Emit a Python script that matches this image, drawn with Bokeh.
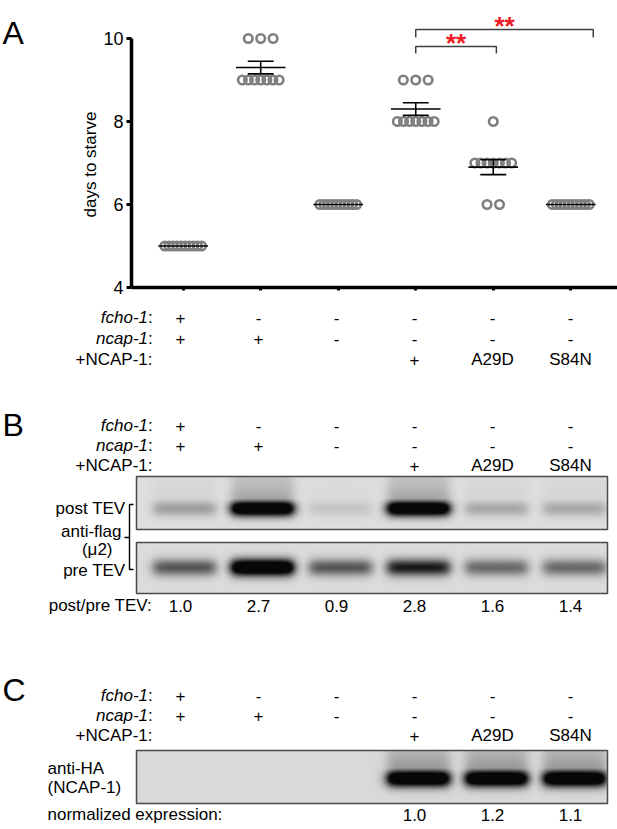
import numpy as np
from bokeh.plotting import figure
from bokeh.models import Range1d, LinearAxis, FixedTicker, LinearColorMapper
from bokeh.layouts import column, row
from bokeh.palettes import Greys256
from bokeh.embed import file_html
from bokeh.resources import INLINE
from bokeh.core.properties import value

FONT = "Liberation Sans"

# ---------------- data ----------------
lanes = [1, 2, 3, 4, 5, 6]
genotype_fcho1 = ["+", "-", "-", "-", "-", "-"]
genotype_ncap1 = ["+", "+", "-", "-", "-", "-"]
rescue_ncap1 = ["", "", "", "+", "A29D", "S84N"]

days_1 = [5, 5, 5, 5, 5, 5, 5, 5, 5, 5]
days_2 = [10, 10, 10, 9, 9, 9, 9, 9, 9, 9]
days_3 = [6, 6, 6, 6, 6, 6, 6, 6, 6, 6]
days_4 = [9, 9, 9, 8, 8, 8, 8, 8, 8, 8]
days_5 = [8, 7, 7, 7, 7, 7, 7, 7, 6, 6]
days_6 = [6, 6, 6, 6, 6, 6, 6, 6, 6, 6]
days_all = [days_1, days_2, days_3, days_4, days_5, days_6]

sig_pairs = [(4, 5), (4, 6)]
sig_labels = ["**", "**"]

post_tev_band = [0.2, 1.0, 0.08, 1.0, 0.17, 0.17]
pre_tev_band = [0.42, 1.0, 0.42, 0.62, 0.36, 0.36]
post_pre_ratio = [1.0, 2.7, 0.9, 2.8, 1.6, 1.4]
ha_band = [0.0, 0.0, 0.0, 1.0, 1.0, 1.0]
normalized_expression = [None, None, None, 1.0, 1.2, 1.1]

# ---------------- layout helpers ----------------
PX = 78.0          # pixels per lane
COL1 = 180.0       # page x of lane 1
YPX = 41.5         # pixels per day
W = 617
WL = 100           # left strip (panel letter + axis title)
HA = 298
HB = 829 - HA


def cx(px):
    return 1 + (px - COL1) / PX


def Y(py):          # lower figure: page y -> data y
    return 829 - py


def bare(p):
    p.outline_line_color = None
    p.xgrid.visible = False
    p.ygrid.visible = False
    return p


# ================= Panel A =================
pL = bare(figure(width=WL, height=HA, output_backend="svg", toolbar_location=None,
                 x_range=Range1d(0, WL), y_range=Range1d(0, HA), min_border=0,
                 x_axis_location=None, y_axis_location=None, frame_align=False))
pL.text(x=[2], y=[HA - 32], text=["A"], text_align="left", text_baseline="alphabetic",
        text_font=value(FONT), text_font_size="32px")
pL.text(x=[90], y=[HA - 164], text=["days to starve"], angle=np.pi / 2,
        text_align="center", text_baseline="middle",
        text_font=value(FONT), text_font_size="17px")

pA = bare(figure(width=W - WL, height=HA, output_backend="svg", toolbar_location=None,
                 x_range=Range1d(cx(128), cx(W)), y_range=Range1d(4, 4 + 272 / YPX),
                 min_border_left=128 - WL, min_border_right=0, min_border_top=15,
                 min_border_bottom=11, x_axis_location=None, y_axis_location=None,
                 frame_align=False))

yax = LinearAxis(ticker=FixedTicker(ticks=[4, 6, 8, 10]), bounds=(4, 10),
                 axis_line_width=3.5, major_tick_line_width=3, major_tick_out=5, major_tick_in=0,
                 minor_tick_line_color=None,
                 major_label_text_font=FONT, major_label_text_font_size="18px",
                 major_label_text_color="black", major_label_standoff=3)
pA.add_layout(yax, "left")
xax = LinearAxis(ticker=FixedTicker(ticks=lanes),
                 axis_line_width=3.5, major_tick_line_width=3, major_tick_out=3, major_tick_in=0,
                 minor_tick_line_color=None, major_label_text_font_size="1px",
                 major_label_overrides={k: "" for k in lanes}, major_label_standoff=0)
pA.add_layout(xax, "below")


def swarm_offsets(vals):
    vals = np.asarray(vals)
    off = np.zeros(len(vals))
    for v in np.unique(vals):
        idx = np.where(vals == v)[0]
        n = len(idx)
        step = min(12.5, 37.0 / (n - 1)) if n > 1 else 0.0
        off[idx] = (np.arange(n) - (n - 1) / 2.0) * step / PX
    return off


xs, ys = [], []
for g, vals in zip(lanes, days_all):
    xs.extend(list(g + swarm_offsets(vals)))
    ys.extend(vals)
pA.scatter(x=xs, y=ys, marker="circle", size=8.5, fill_color=None,
           line_color="#7f7f7f", line_width=2.6)

means = [float(np.mean(v)) for v in days_all]
sems = [float(np.std(v, ddof=1) / np.sqrt(len(v))) for v in days_all]
pA.segment(x0=[g - 0.32 for g in lanes], x1=[g + 0.32 for g in lanes], y0=means, y1=means,
           line_color="black", line_width=1.6)
eg = [g for g, s in zip(lanes, sems) if s > 0]
em = [m for m, s in zip(means, sems) if s > 0]
es = [s for s in sems if s > 0]
lo = [m - s for m, s in zip(em, es)]
hi = [m + s for m, s in zip(em, es)]
pA.segment(x0=eg, x1=eg, y0=lo, y1=hi, line_color="black", line_width=1.6)
pA.segment(x0=[g - 0.167 for g in eg] * 2, x1=[g + 0.167 for g in eg] * 2,
           y0=lo + hi, y1=lo + hi, line_color="black", line_width=1.6)

# significance brackets
br_level = [9.807, 10.217]
br_drop = [0.168, 0.193]
br_extra = [0.04, 0.29]
bx, by = [], []
for (a, b), lv, dr, ex in zip(sig_pairs, br_level, br_drop, br_extra):
    bx.append([a, a, b + ex, b + ex])
    by.append([lv - dr, lv, lv, lv - dr])
pA.multi_line(xs=bx, ys=by, line_color="#404040", line_width=1.5)
pA.text(x=[(a + b + ex) / 2 for (a, b), ex in zip(sig_pairs, br_extra)],
        y=[lv + 0.075 for lv in br_level], text=sig_labels,
        text_align="center", text_baseline="alphabetic", text_color="#ee1c25",
        text_font=value(FONT), text_font_size="26px", text_font_style="bold")

# ================= Panels B and C =================
pB = bare(figure(width=W, height=HB, output_backend="svg", toolbar_location=None,
                 x_range=Range1d(cx(0), cx(W)), y_range=Range1d(0, HB),
                 min_border=0, x_axis_location=None, y_axis_location=None,
                 frame_align=False))


def txt(p, x, y, s, align="center", style="normal", size="17px", color="black",
        baseline="middle"):
    p.text(x=x, y=y, text=s, text_align=align, text_baseline=baseline,
           text_font=value(FONT), text_font_size=size, text_font_style=style,
           text_color=color)


def genotype_table(p, rows):
    r0, r1, r2 = rows
    txt(p, [cx(147.5)], [Y(r0)], ["fcho-1"], align="right", style="italic")
    txt(p, [cx(147.5)], [Y(r0)], [":"], align="left")
    txt(p, [cx(147.5)], [Y(r1)], ["ncap-1"], align="right", style="italic")
    txt(p, [cx(147.5)], [Y(r1)], [":"], align="left")
    txt(p, [cx(152)], [Y(r2)], ["+NCAP-1:"], align="right")
    txt(p, lanes, [Y(r0)] * 6, genotype_fcho1)
    txt(p, lanes, [Y(r1)] * 6, genotype_ncap1)
    txt(p, lanes, [Y(r2)] * 6, rescue_ncap1)


genotype_table(pB, (317, 338, 359))
genotype_table(pB, (425, 445, 465))
genotype_table(pB, (695, 715, 735))

txt(pB, [cx(2), cx(2)], [Y(424), Y(689)], ["B", "C"], align="left", size="32px",
    baseline="alphabetic")

BLOT_L, BLOT_R = 136, 607
cmap = LinearColorMapper(palette=Greys256, low=0, high=1)


def blot(p, intens, top, bottom, band_y, sigma, smear, bg):
    nx, ny = BLOT_R - BLOT_L, bottom - top
    gx = np.arange(nx) + BLOT_L + 0.5
    gy = np.arange(ny) + top + 0.5
    dark = np.zeros((ny, nx))
    for lane, inten in zip(lanes, intens):
        c = COL1 + PX * (lane - 1) + 4
        h = 1 / (1 + np.exp(-(gx - (c - 31)) / 3.0)) / (1 + np.exp((gx - (c + 31)) / 3.0))
        v = np.exp(-0.5 * ((gy - band_y) / sigma) ** 2)
        sm = np.where(gy < band_y, smear * np.exp(-(band_y - gy) / 30.0), 0.0)
        dark = np.maximum(dark, np.outer(np.maximum(v, sm), h) * inten)
    img = bg - (bg - 0.03) * np.clip(dark * 1.5, 0, 1)
    p.image(image=[img[::-1]], x=cx(BLOT_L), y=Y(bottom), dw=(BLOT_R - BLOT_L) / PX,
            dh=bottom - top, color_mapper=cmap)
    p.quad(left=[cx(BLOT_L)], right=[cx(BLOT_R)], top=[Y(top)], bottom=[Y(bottom)],
           fill_color=None, line_color="#4a4a4a", line_width=1.5)


blot(pB, post_tev_band, 476, 529, 508, 5.5, 0.25, 0.87)
blot(pB, pre_tev_band, 542, 593, 567, 6.0, 0.0, 0.86)
blot(pB, ha_band, 750, 803, 778, 6.0, 0.3, 0.85)

# side labels of blot B
txt(pB, [cx(125)], [Y(508)], ["post TEV"], align="right")
txt(pB, [cx(121)], [Y(531)], ["anti-flag"], align="right")
txt(pB, [cx(112)], [Y(549)], ["(\u03bc2)"], align="right")
txt(pB, [cx(125)], [Y(570)], ["pre TEV"], align="right")
pB.multi_line(xs=[[cx(133), cx(129), cx(129), cx(133)], [cx(124), cx(129)]],
              ys=[[Y(504), Y(504), Y(569), Y(569)], [Y(537), Y(537)]],
              line_color="black", line_width=1.4)

txt(pB, [cx(151.5)], [Y(605)], ["post/pre TEV:"], align="right")
txt(pB, lanes, [Y(605)] * 6, ["%.1f" % r for r in post_pre_ratio])

# side labels of blot C
txt(pB, [cx(47)], [Y(768)], ["anti-HA"], align="left")
txt(pB, [cx(47)], [Y(787)], ["(NCAP-1)"], align="left")
txt(pB, [cx(47)], [Y(814)], ["normalized expression:"], align="left")
ne_x = [l for l, v in zip(lanes, normalized_expression) if v is not None]
ne_t = ["%.1f" % v for v in normalized_expression if v is not None]
txt(pB, ne_x, [Y(814)] * len(ne_x), ne_t)

layout = column(row(pL, pA), pB)
open("out.html", "w").write(file_html(layout, INLINE))
